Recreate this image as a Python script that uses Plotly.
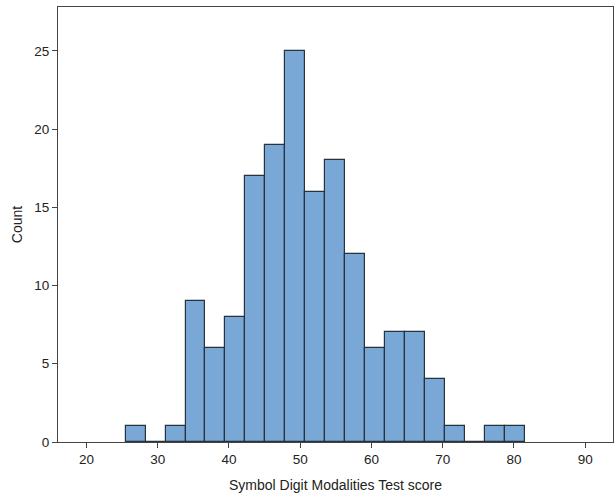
import plotly.graph_objects as go

bin_start = 25.5
bin_width = 2.8
counts = [1, 0, 1, 9, 6, 8, 17, 19, 25, 16, 18, 12, 6, 7, 7, 4, 1, 0, 1, 1]
x_ticks = [20, 30, 40, 50, 60, 70, 80, 90]
y_ticks = [0, 5, 10, 15, 20, 25]

centers = [bin_start + bin_width * (i + 0.5) for i in range(len(counts))]

FONT = "Liberation Sans, Arial"

fig = go.Figure(go.Bar(
    x=centers, y=counts, width=[bin_width] * len(counts),
    marker=dict(color="#79a8d7", line=dict(color="#27323d", width=1.2)),
))

axis_common = dict(showline=True, linecolor="#444", linewidth=1.2, mirror=True,
                   ticks="outside", ticklen=5, tickcolor="#444", tickwidth=1,
                   showgrid=False, zeroline=False,
                   tickfont=dict(family=FONT, size=13.5, color="#222"))

fig.update_layout(
    width=615, height=499,
    margin=dict(l=58, r=2, t=7, b=57, autoexpand=False),
    paper_bgcolor="white", plot_bgcolor="white",
    showlegend=False,
    bargap=0,
    xaxis=dict(range=[16.0, 93.9], tickvals=x_ticks, automargin=False,
               title=dict(text="Symbol Digit Modalities Test score", standoff=13,
                          font=dict(family=FONT, size=14, color="#222")),
               **axis_common),
    yaxis=dict(range=[0, 27.8], tickvals=y_ticks, automargin=False,
               title=dict(text="Count", standoff=8,
                          font=dict(family=FONT, size=14, color="#222")),
               **axis_common),
)

fig.write_html("out.html", config={"displayModeBar": False},
               post_script="document.body.style.margin='0';")
